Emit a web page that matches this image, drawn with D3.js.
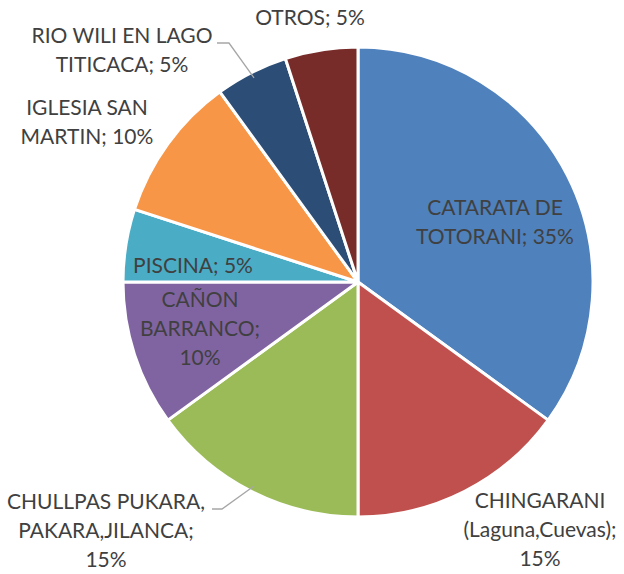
<!DOCTYPE html>
<html><head><meta charset="utf-8">
<script src="https://cdn.jsdelivr.net/npm/d3@7"></script>
<style>body{margin:0;background:#fff}</style>
</head><body>
<svg id="chart" width="624" height="574"></svg>
<script>
const categories = ["CATARATA DE TOTORANI","CHINGARANI (Laguna,Cuevas)","CHULLPAS PUKARA, PAKARA,JILANCA","CAÑON BARRANCO","PISCINA","IGLESIA SAN MARTIN","RIO WILI EN LAGO TITICACA","OTROS"];
const values = [35,15,15,10,5,10,5,5];
const labelLines = [
  ["CATARATA DE","TOTORANI; 35%"],
  ["CHINGARANI","(Laguna,Cuevas);","15%"],
  ["CHULLPAS PUKARA,","PAKARA,JILANCA;","15%"],
  ["CAÑON","BARRANCO;","10%"],
  ["PISCINA; 5%"],
  ["IGLESIA SAN","MARTIN; 10%"],
  ["RIO WILI EN LAGO","TITICACA; 5%"],
  ["OTROS; 5%"]
];
const colors = ["#4F81BD","#C0504D","#9BBB59","#8064A2","#4BACC6","#F79646","#2C4D75","#772C2A"];

// layout (not data)
const cx = 358, cy = 282, R = 235, lineH = 29;
const labelCenters = [[495,222],[540,530],[106,531],[200,329],[193,266],[87,122],[122,50],[310,18]];
const leaders = {2:[[212,509],[222,509]], 6:[[217,43],[229,43]]};

const svg = d3.select("#chart");
const g = svg.append("g").attr("transform",`translate(${cx},${cy})`);
const pie = d3.pie().sort(null).value(d=>d);
const arcs = pie(values);
const arc = d3.arc().innerRadius(0).outerRadius(R);

g.selectAll("path").data(arcs).join("path")
  .attr("d",arc).attr("fill",(d,i)=>colors[i])
  .attr("stroke","#fff").attr("stroke-width",3).attr("stroke-linejoin","round");

// leader lines
const edgeArc = d3.arc().innerRadius(R-8).outerRadius(R-8);
Object.entries(leaders).forEach(([i,pts])=>{
  const a = arcs[+i];
  const m = (a.startAngle+a.endAngle)/2;
  const ex = cx + (R-6)*Math.sin(m), ey = cy - (R-6)*Math.cos(m);
  svg.append("polyline")
    .attr("points",[...pts,[ex,ey]].map(p=>p.join(",")).join(" "))
    .attr("fill","none").attr("stroke","#A6A6A6").attr("stroke-width",1.3);
});

labelLines.forEach((lines,i)=>{
  const [x,y] = labelCenters[i];
  const t = svg.append("text").attr("x",x).attr("y",y)
    .attr("text-anchor","middle").attr("fill","#404040")
    .style("font-family","Lato, 'Open Sans', sans-serif").style("font-size","21px");
  const n = lines.length;
  lines.forEach((l,k)=>{
    t.append("tspan").attr("x",x).attr("y",y + (k-(n-1)/2)*lineH).attr("dy","0.35em").text(l);
  });
});
</script>
</body></html>
